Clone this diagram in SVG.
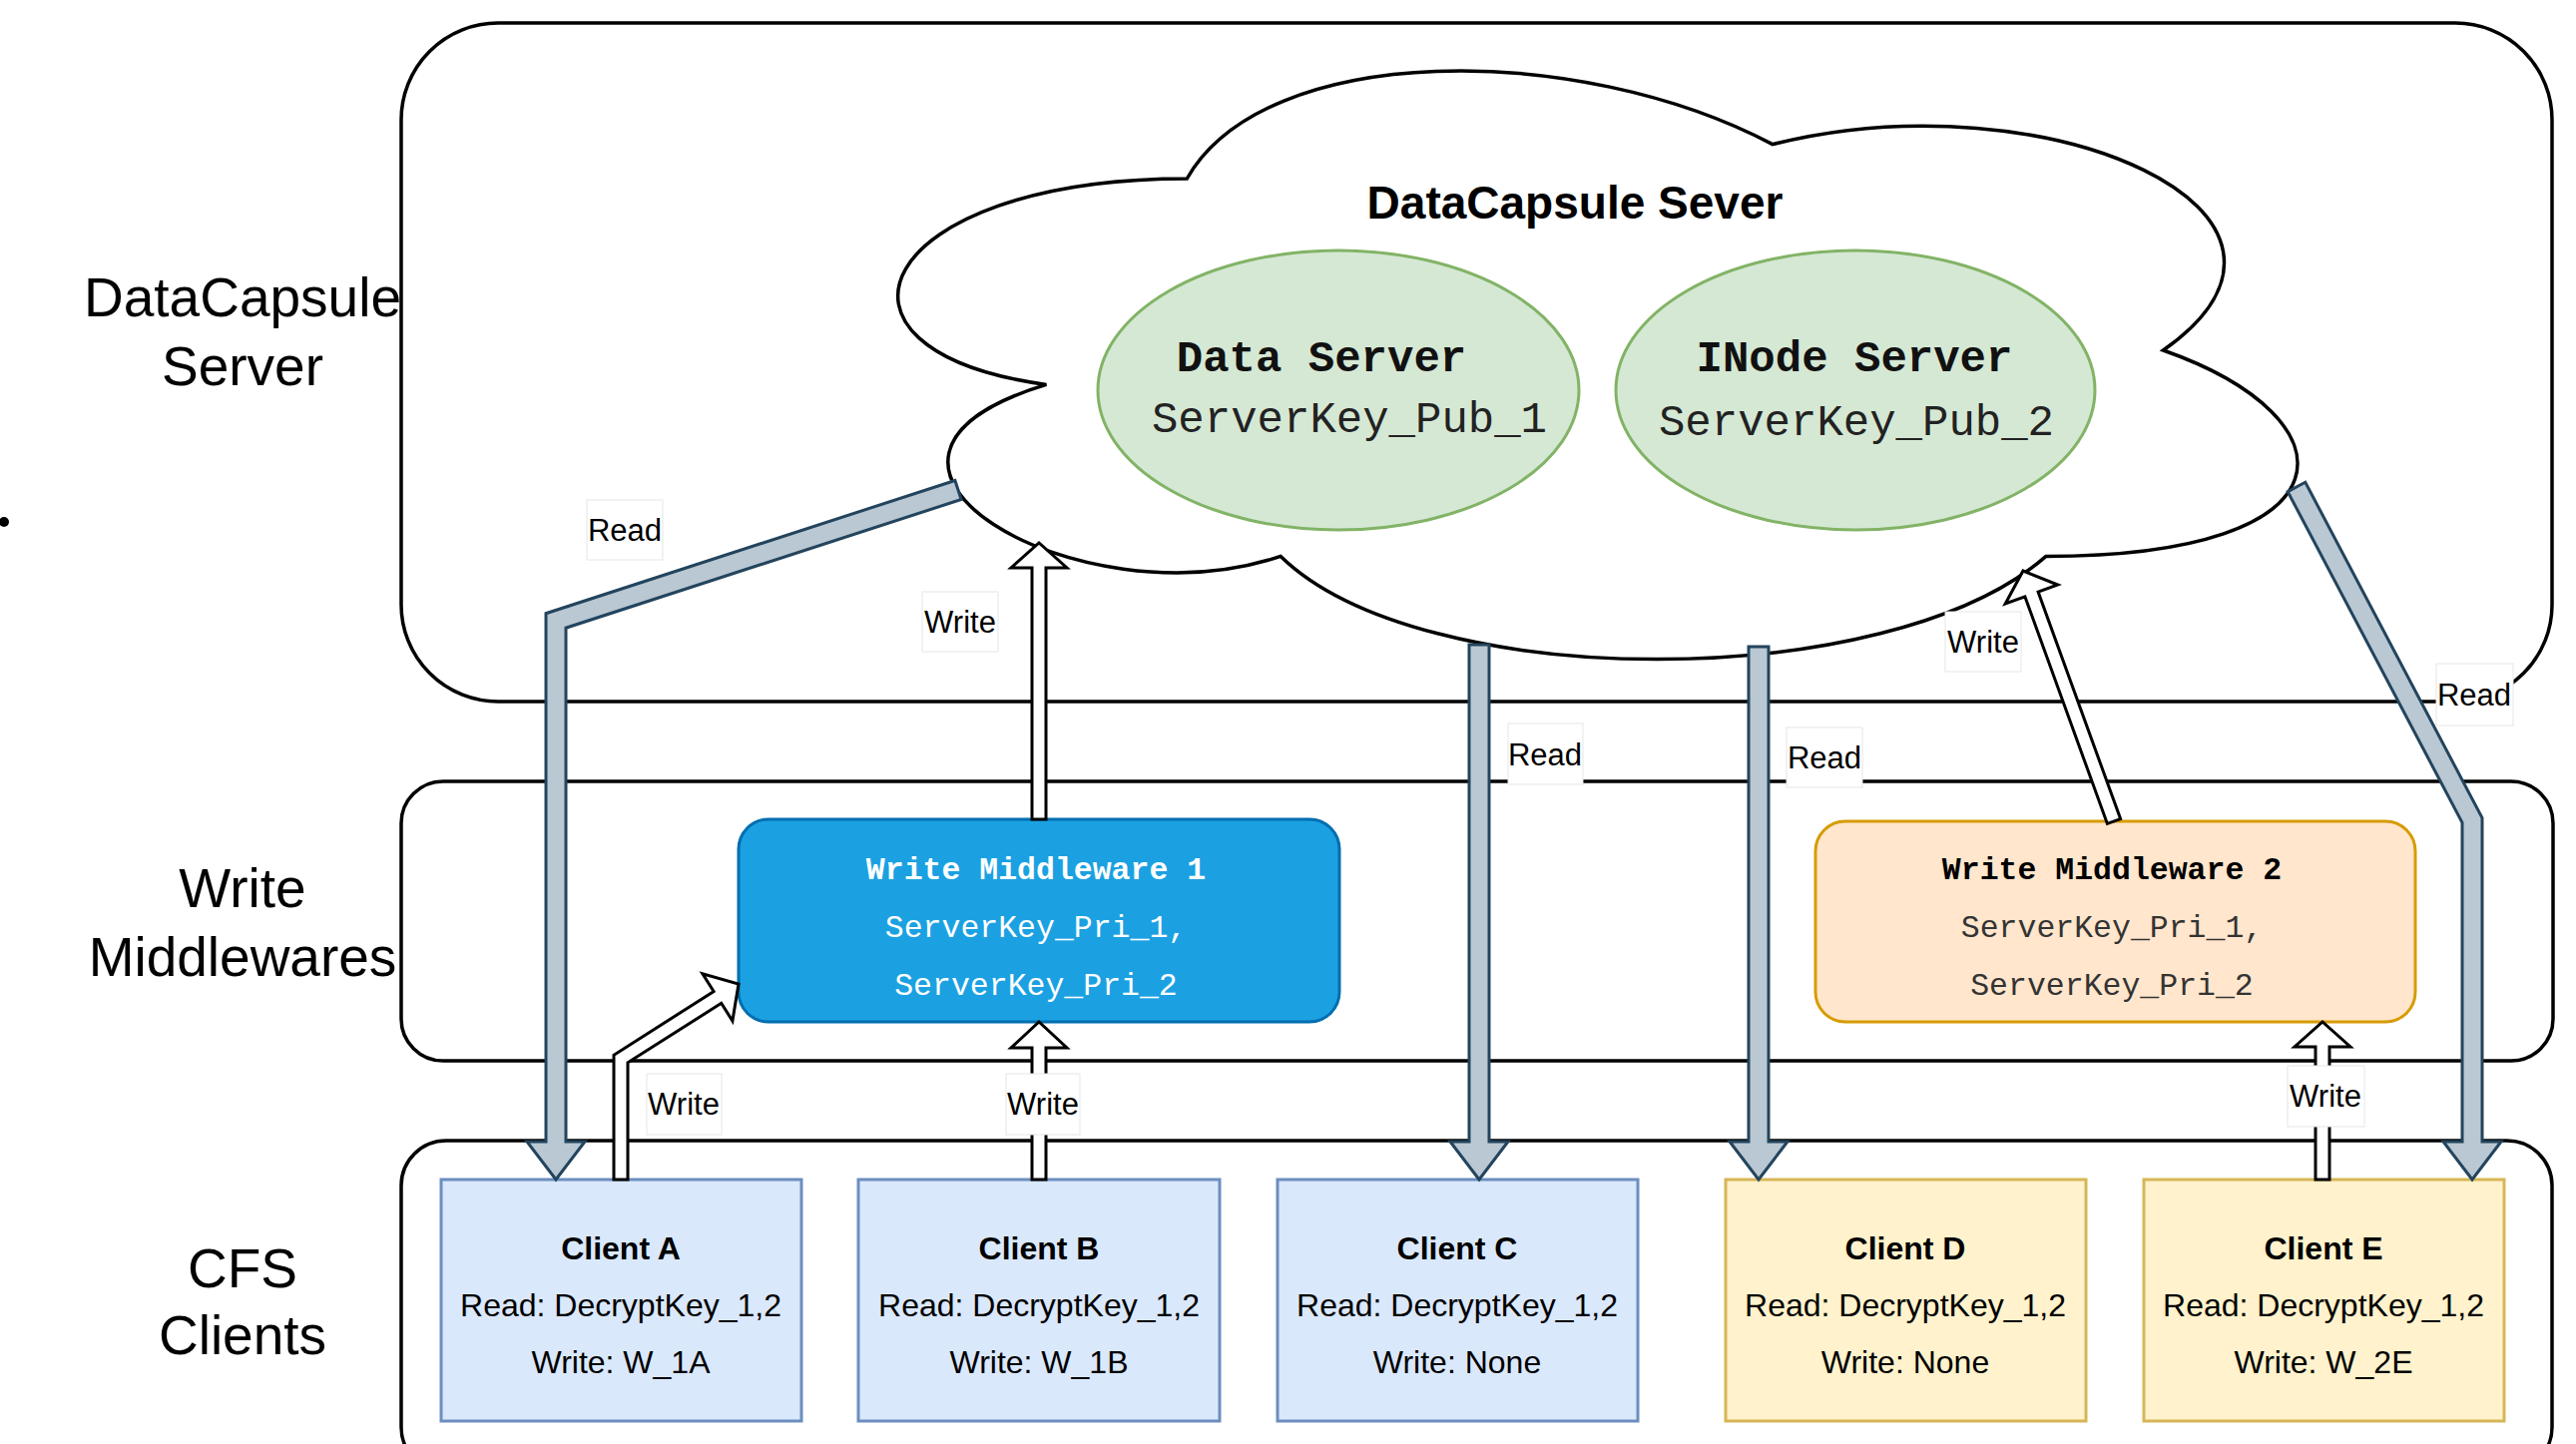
<svg xmlns="http://www.w3.org/2000/svg" width="2581" height="1447" viewBox="0 0 2581 1447">
  <style>
    .tier { fill: #ffffff; stroke: #000000; stroke-width: 3.5; }
    .tierlbl { font-family: "Liberation Sans", Arial, sans-serif; font-size: 55px; fill: #000000; text-anchor: middle; }
    .cloud { fill: #ffffff; stroke: #000000; stroke-width: 3.5; }
    .cloudttl { font-family: "Liberation Sans", Arial, sans-serif; font-size: 46px; font-weight: bold; fill: #000000; text-anchor: middle; }
    .srv { fill: #d5e8d4; stroke: #82b366; stroke-width: 3; }
    .srvttl { font-family: "Liberation Mono", "Courier New", monospace; font-size: 44px; font-weight: bold; fill: #111111; text-anchor: middle; }
    .srvkey { font-family: "Liberation Mono", "Courier New", monospace; font-size: 44px; fill: #222222; text-anchor: middle; }
    .mw1 { fill: #1ba1e2; stroke: #006eaf; stroke-width: 3; }
    .mw2 { fill: #ffe6cc; stroke: #d79b00; stroke-width: 3; }
    .mwttl { font-family: "Liberation Mono", "Courier New", monospace; font-size: 31.5px; font-weight: bold; text-anchor: middle; }
    .mwkey { font-family: "Liberation Mono", "Courier New", monospace; font-size: 31.5px; text-anchor: middle; }
    .cb { fill: #dae8fc; stroke: #6c8ebf; stroke-width: 3; }
    .cy { fill: #fff2cc; stroke: #d6b656; stroke-width: 3; }
    .cttl { font-family: "Liberation Sans", Arial, sans-serif; font-size: 32px; font-weight: bold; fill: #000000; text-anchor: middle; }
    .ctxt { font-family: "Liberation Sans", Arial, sans-serif; font-size: 32px; fill: #000000; text-anchor: middle; }
    .rd { fill: #bac8d3; stroke: #23445d; stroke-width: 3; stroke-linejoin: miter; }
    .wr { fill: #ffffff; stroke: #000000; stroke-width: 3; stroke-linejoin: miter; }
    .lblbox { fill: #ffffff; stroke: #e6e6e6; stroke-width: 1; }
    .lbl { font-family: "Liberation Sans", Arial, sans-serif; font-size: 31px; fill: #000000; text-anchor: middle; }
  </style>

  <!-- tier containers -->
  <g id="tier-server">
    <rect class="tier" x="402" y="23" width="2155" height="680" rx="97" ry="97"/>
  </g>
  <g id="tier-middleware">
    <rect class="tier" x="402" y="783" width="2156" height="280" rx="42" ry="42"/>
  </g>
  <g id="tier-clients">
    <rect class="tier" x="402" y="1143" width="2155" height="332" rx="45" ry="45"/>
  </g>

  <!-- tier captions -->
  <g id="tier-captions">
    <text class="tierlbl" x="243" y="317">DataCapsule</text>
    <text class="tierlbl" x="243" y="386">Server</text>
    <text class="tierlbl" x="243" y="909">Write</text>
    <text class="tierlbl" x="243" y="978">Middlewares</text>
    <text class="tierlbl" x="243" y="1290">CFS</text>
    <text class="tierlbl" x="243" y="1357">Clients</text>
    <circle cx="4" cy="523" r="5" fill="#000000"/>
  </g>

  <!-- server cloud -->
  <g id="datacapsule-cloud">
    <path class="cloud" d="M 1189.25 179 C 876.25 179, 798 351, 1048.4 385.4 C 798 461.1, 1079.7 626.2, 1283.15 557.4 C 1424 695, 1893.5 695, 2050 557.4 C 2363 557.4, 2363 419.8, 2167.4 351 C 2363 213.4, 2050 75.8, 1776.1 144.6 C 1580.5 41.4, 1267.5 41.4, 1189.25 179 Z"/>
    <text class="cloudttl" x="1578" y="219">DataCapsule Sever</text>
  </g>

  <g id="data-server">
    <ellipse class="srv" cx="1341" cy="391" rx="241" ry="140"/>
    <text class="srvttl" x="1324" y="372">Data Server</text>
    <text class="srvkey" x="1352" y="433">ServerKey_Pub_1</text>
  </g>

  <g id="inode-server">
    <ellipse class="srv" cx="1859" cy="391" rx="240" ry="140"/>
    <text class="srvttl" x="1858" y="372">INode Server</text>
    <text class="srvkey" x="1860" y="436">ServerKey_Pub_2</text>
  </g>

  <!-- write middlewares -->
  <g id="write-middleware-1">
    <rect class="mw1" x="740" y="821" width="602" height="203" rx="30" ry="30"/>
    <text class="mwttl" x="1038" y="881" fill="#ffffff">Write Middleware 1</text>
    <text class="mwkey" x="1038" y="939" fill="#ffffff">ServerKey_Pri_1,</text>
    <text class="mwkey" x="1038" y="997" fill="#ffffff">ServerKey_Pri_2</text>
  </g>

  <g id="write-middleware-2">
    <rect class="mw2" x="1819" y="823" width="601" height="201" rx="30" ry="30"/>
    <text class="mwttl" x="2116" y="881" fill="#000000">Write Middleware 2</text>
    <text class="mwkey" x="2116" y="939" fill="#333333">ServerKey_Pri_1,</text>
    <text class="mwkey" x="2116" y="997" fill="#333333">ServerKey_Pri_2</text>
  </g>

  <!-- clients -->
  <g id="client-a">
    <rect class="cb" x="442" y="1182" width="361" height="242"/>
    <text class="cttl" x="622" y="1262">Client A</text>
    <text class="ctxt" x="622" y="1319">Read: DecryptKey_1,2</text>
    <text class="ctxt" x="622" y="1376">Write: W_1A</text>
  </g>
  <g id="client-b">
    <rect class="cb" x="860" y="1182" width="362" height="242"/>
    <text class="cttl" x="1041" y="1262">Client B</text>
    <text class="ctxt" x="1041" y="1319">Read: DecryptKey_1,2</text>
    <text class="ctxt" x="1041" y="1376">Write: W_1B</text>
  </g>
  <g id="client-c">
    <rect class="cb" x="1280" y="1182" width="361" height="242"/>
    <text class="cttl" x="1460" y="1262">Client C</text>
    <text class="ctxt" x="1460" y="1319">Read: DecryptKey_1,2</text>
    <text class="ctxt" x="1460" y="1376">Write: None</text>
  </g>
  <g id="client-d">
    <rect class="cy" x="1729" y="1182" width="361" height="242"/>
    <text class="cttl" x="1909" y="1262">Client D</text>
    <text class="ctxt" x="1909" y="1319">Read: DecryptKey_1,2</text>
    <text class="ctxt" x="1909" y="1376">Write: None</text>
  </g>
  <g id="client-e">
    <rect class="cy" x="2148" y="1182" width="361" height="242"/>
    <text class="cttl" x="2328" y="1262">Client E</text>
    <text class="ctxt" x="2328" y="1319">Read: DecryptKey_1,2</text>
    <text class="ctxt" x="2328" y="1376">Write: W_2E</text>
  </g>

  <!-- connectors: read paths (filled) and write paths (hollow) -->
  <g id="connectors">
    <path class="rd" d="M 956.9 481.5 L 547 614.7 L 547 1144 L 528 1144 L 557 1182 L 586 1144 L 567 1144 L 567 629.2 L 963.1 500.5 Z"/>
    <path class="rd" d="M 1472 646 L 1472 1144 L 1453 1144 L 1482 1182 L 1511 1144 L 1492 1144 L 1492 646 Z"/>
    <path class="rd" d="M 1752 648 L 1752 1144 L 1733 1144 L 1762 1182 L 1791 1144 L 1772 1144 L 1772 648 Z"/>
    <path class="rd" d="M 2292.2 492.7 L 2467 824.4 L 2467 1144 L 2448 1144 L 2477 1182 L 2506 1144 L 2487 1144 L 2487 819.6 L 2309.8 483.3 Z"/>

    <path class="wr" d="M 1034 821 L 1034 569 L 1013 569 L 1041 544 L 1069 569 L 1048 569 L 1048 821 Z"/>
    <path class="wr" d="M 1034 1182 L 1034 1050 L 1013 1050 L 1041 1024 L 1069 1050 L 1048 1050 L 1048 1182 Z"/>
    <path class="wr" d="M 2320 1182 L 2320 1049 L 2299 1049 L 2327 1024 L 2355 1049 L 2334 1049 L 2334 1182 Z"/>
    <path class="wr" d="M 629 1182 L 629 1064.8 L 722.7 1005.3 L 733.9 1023 L 740 986 L 703.9 975.8 L 715.1 993.5 L 615 1057.2 L 615 1182 Z"/>
    <path class="wr" d="M 2124.6 820.6 L 2042.1 593.1 L 2061.8 586 L 2027 572 L 2009.2 605 L 2028.9 597.9 L 2111.4 825.4 Z"/>
  </g>

  <!-- connector labels -->
  <g id="connector-labels">
    <rect class="lblbox" x="588" y="501" width="76" height="60"/>
    <text class="lbl" x="626" y="542">Read</text>
    <rect class="lblbox" x="924" y="593" width="76" height="60"/>
    <text class="lbl" x="962" y="634">Write</text>
    <rect class="lblbox" x="1511" y="725" width="75" height="61"/>
    <text class="lbl" x="1548" y="767">Read</text>
    <rect class="lblbox" x="1790" y="729" width="76" height="60"/>
    <text class="lbl" x="1828" y="770">Read</text>
    <rect class="lblbox" x="1949" y="613" width="76" height="60"/>
    <text class="lbl" x="1987" y="654">Write</text>
    <rect class="lblbox" x="2441" y="665" width="77" height="62"/>
    <text class="lbl" x="2479" y="707">Read</text>
    <rect class="lblbox" x="648" y="1076" width="75" height="61"/>
    <text class="lbl" x="685" y="1117">Write</text>
    <rect class="lblbox" x="1008" y="1076" width="74" height="61"/>
    <text class="lbl" x="1045" y="1117">Write</text>
    <rect class="lblbox" x="2292" y="1068" width="77" height="61"/>
    <text class="lbl" x="2330" y="1109">Write</text>
  </g>
</svg>
